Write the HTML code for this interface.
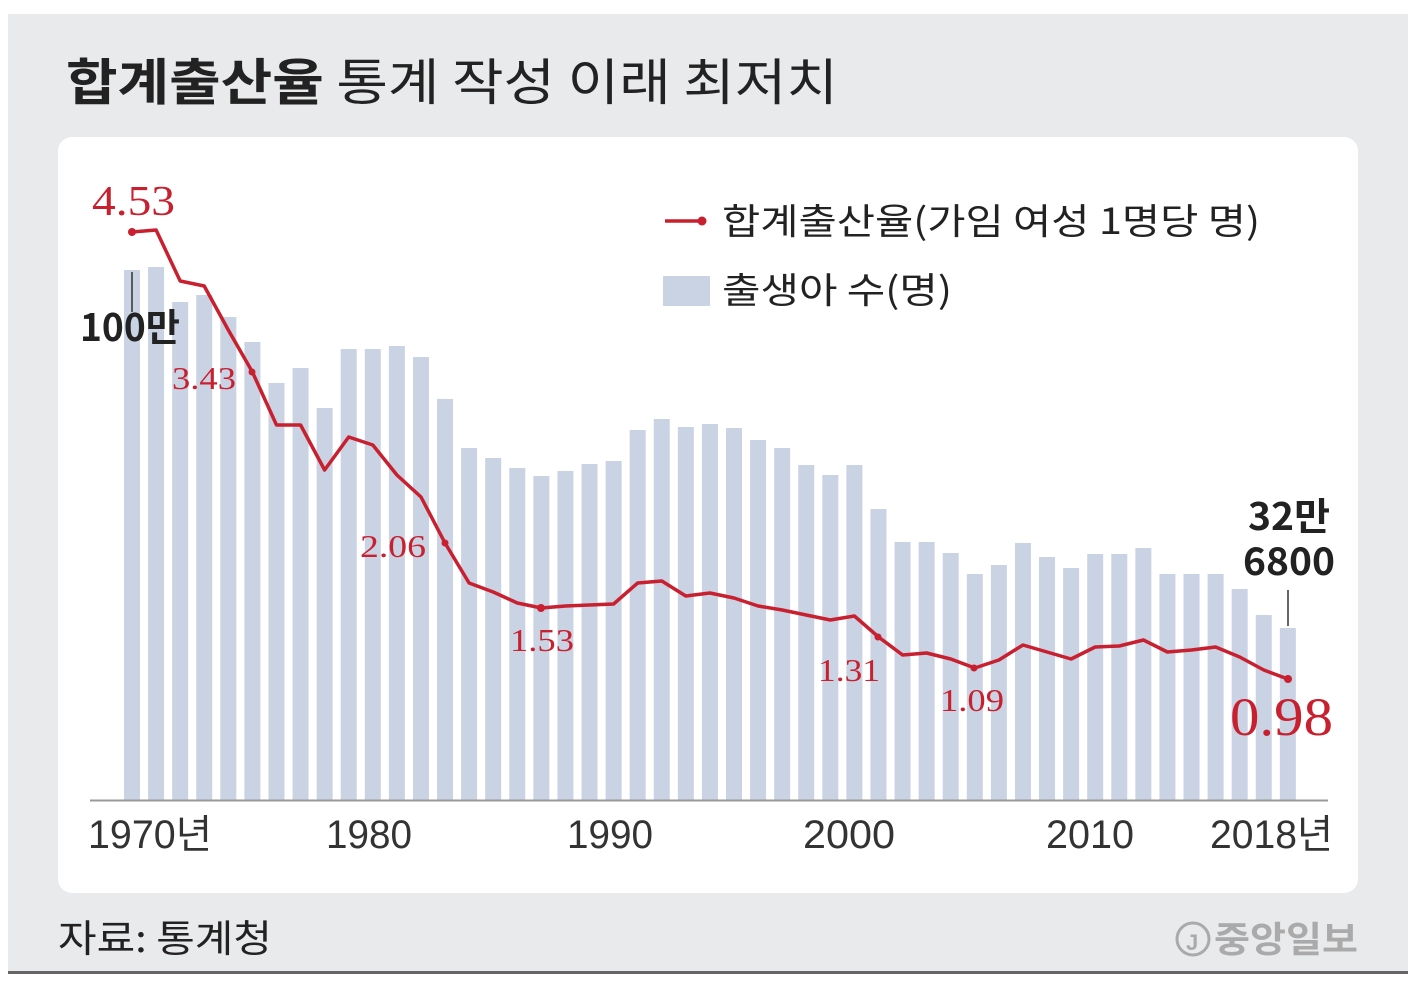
<!DOCTYPE html>
<html><head><meta charset="utf-8"><style>
html,body{margin:0;padding:0;background:#fff;}
body{width:1420px;height:982px;position:relative;overflow:hidden;font-family:"Liberation Sans","Noto Sans CJK KR",sans-serif;}
</style></head><body>
<svg width="1420" height="982" xmlns="http://www.w3.org/2000/svg" style="position:absolute;left:0;top:0">
<rect x="8" y="14" width="1400" height="958" fill="#e9eaec"/>
<rect x="8" y="971" width="1400" height="3" fill="#666"/>
<rect x="58" y="137" width="1300" height="756" rx="14" fill="#fff"/>
<text x="66" y="100" font-size="50" fill="#222" font-family="'Noto Sans CJK KR',sans-serif" textLength="772" lengthAdjust="spacingAndGlyphs"><tspan font-weight="bold">합계출산율</tspan> 통계 작성 이래 최저치</text>
<g id="bars" fill="#c9d3e3"></g>
<line x1="90" y1="800.5" x2="1328" y2="800.5" stroke="#999" stroke-width="2"/>
<polyline id="line" fill="none" stroke="#c8202f" stroke-width="3.5" stroke-linejoin="round"/>
<g fill="#c8202f">
<circle cx="132" cy="232" r="4"/><circle cx="252" cy="372" r="3.5"/><circle cx="445" cy="543" r="3.5"/><circle cx="541" cy="608" r="4"/><circle cx="878" cy="637" r="3.5"/><circle cx="974" cy="668" r="3.5"/><circle cx="1288" cy="679" r="4"/>
</g>
<line x1="132" y1="272" x2="132" y2="312" stroke="#333" stroke-width="1.5"/>
<line x1="1288" y1="590" x2="1288" y2="626" stroke="#333" stroke-width="1.5"/>
<g font-family="'Liberation Serif',serif" fill="#c8202f" lengthAdjust="spacingAndGlyphs">
<text x="92" y="215" font-size="42" textLength="83" lengthAdjust="spacingAndGlyphs">4.53</text>
<text x="172" y="389" font-size="32" textLength="64" lengthAdjust="spacingAndGlyphs">3.43</text>
<text x="360" y="557" font-size="32" textLength="66" lengthAdjust="spacingAndGlyphs">2.06</text>
<text x="510" y="651" font-size="32" textLength="64" lengthAdjust="spacingAndGlyphs">1.53</text>
<text x="818" y="681" font-size="32" textLength="62" lengthAdjust="spacingAndGlyphs">1.31</text>
<text x="940" y="711" font-size="32" textLength="64" lengthAdjust="spacingAndGlyphs">1.09</text>
<text x="1230" y="735" font-size="54" textLength="103" lengthAdjust="spacingAndGlyphs">0.98</text>
</g>
<g font-weight="bold" fill="#222" font-family="'Noto Sans CJK KR',sans-serif" font-size="38">
<text x="80" y="341" textLength="100" lengthAdjust="spacingAndGlyphs">100만</text>
<text x="1248" y="530" textLength="82" lengthAdjust="spacingAndGlyphs">32만</text>
<text x="1243" y="575" textLength="92" lengthAdjust="spacingAndGlyphs">6800</text>
</g>
<line x1="665" y1="221" x2="702" y2="221" stroke="#c8202f" stroke-width="3.5"/>
<circle cx="702" cy="221" r="4.5" fill="#c8202f"/>
<text x="722" y="234" font-size="36" fill="#222" font-family="'Noto Sans CJK KR',sans-serif" textLength="538" lengthAdjust="spacingAndGlyphs">합계출산율(가임 여성 1명당 명)</text>
<rect x="663" y="276" width="47" height="30" fill="#c9d3e3"/>
<text x="722" y="303" font-size="36" fill="#222" font-family="'Noto Sans CJK KR',sans-serif" textLength="230" lengthAdjust="spacingAndGlyphs">출생아 수(명)</text>
<g font-size="40" fill="#333" font-family="'Liberation Sans','Noto Sans CJK KR',sans-serif">
<text x="88" y="848" textLength="124" lengthAdjust="spacingAndGlyphs">1970년</text>
<text x="326" y="848" textLength="86" lengthAdjust="spacingAndGlyphs">1980</text>
<text x="567" y="848" textLength="86" lengthAdjust="spacingAndGlyphs">1990</text>
<text x="803" y="848" textLength="92" lengthAdjust="spacingAndGlyphs">2000</text>
<text x="1046" y="848" textLength="88" lengthAdjust="spacingAndGlyphs">2010</text>
<text x="1210" y="848" textLength="123" lengthAdjust="spacingAndGlyphs">2018년</text>
</g>
<text x="58" y="952" font-size="38" fill="#222" font-family="'Noto Sans CJK KR',sans-serif" textLength="214" lengthAdjust="spacingAndGlyphs">자료: 통계청</text>
<circle cx="1193" cy="939" r="16" fill="none" stroke="#aaa" stroke-width="3"/>
<text x="1186" y="950" font-size="22" fill="#aaa" font-weight="bold">J</text>
<text x="1214" y="952" font-size="36" fill="#aaa" font-weight="bold" font-family="'Noto Sans CJK KR',sans-serif" textLength="144" lengthAdjust="spacingAndGlyphs">중앙일보</text>
</svg>
<script>
var tops=[270,267,302,295,317,342,383,368,408,349,349,346,357,399,448,458,468,476,471,464,461,430,419,427,424,428,440,448,465,475,465,509,542,542,553,574,565,543,557,568,554,554,548,574,574,574,589,615,628];
var ly=[232,230,281,286,330,372,425,425,470,437,445,475,497,543,583,592,603,608,606,605,604,583,581,596,593,598,606,610,615,620,616,637,655,653,659,668,660,645,652,659,647,646,640,652,650,647,657,670,679];
var g=document.getElementById('bars'),ns="http://www.w3.org/2000/svg",pts=[];
for(var i=0;i<49;i++){var cx=132+i*24.08;var r=document.createElementNS(ns,'rect');r.setAttribute('x',cx-8);r.setAttribute('y',tops[i]);r.setAttribute('width',16);r.setAttribute('height',800-tops[i]);g.appendChild(r);pts.push(cx.toFixed(1)+','+ly[i]);}
document.getElementById('line').setAttribute('points',pts.join(' '));
</script>
</body></html>
